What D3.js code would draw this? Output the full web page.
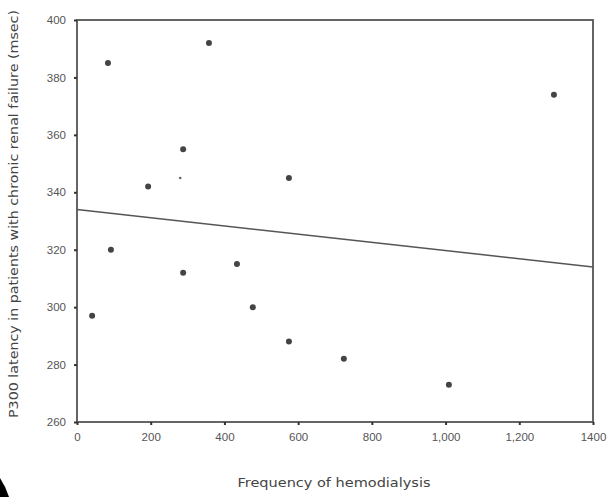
<!DOCTYPE html>
<html lang="en">
<head>
    <meta charset="UTF-8">
    <script type="text/javascript" src="https://d3js.org/d3.v7.min.js"></script>
    <title>P300 latency</title>
    <style>
        body { margin: 0; background: #fff; }
    </style>
</head>
<body>
    <svg id="svg"></svg>
    <script>
        const width = 610;
        const height = 497;
        const margin = {"top": 20, "bottom": 75, "left": 77, "right": 17};

        // values
        const frequency = [84, 358, 288, 193, 575, 92, 41, 288, 434, 477, 575, 724, 1009, 1294];
        const latency   = [385, 392, 355, 342, 345, 320, 297, 312, 315, 300, 288, 282, 273, 374];
        const faintPoint = [[280, 345]];
        const fitLine = [[0, 334], [1400, 314]];
        const xTicks = [0, 200, 400, 600, 800, 1000, 1200, 1400];
        const yTicks = [260, 280, 300, 320, 340, 360, 380, 400];

        const points = frequency.map((f, i) => [f, latency[i]]);

        const xscale = d3.scaleLinear()
                         .domain([0, 1400])
                         .range([margin.left, width - margin.right]);
        const yscale = d3.scaleLinear()
                         .domain([260, 400])
                         .range([height - margin.bottom, margin.top]);

        const svg = d3.select("#svg").attr("width", width).attr("height", height)
            .attr("font-family", "DejaVu Sans, sans-serif");

        // frame
        svg.append("rect")
            .attr("x", xscale(0)).attr("y", yscale(400))
            .attr("width", xscale(1400) - xscale(0))
            .attr("height", yscale(260) - yscale(400))
            .attr("fill", "none").attr("stroke", "#555").attr("stroke-width", 1.8);

        const xaxis = d3.axisBottom(xscale).tickValues(xTicks)
            .tickFormat(d => d >= 1000 && d < 1400 ? d3.format(",")(d) : d)
            .tickSize(3).tickPadding(8);
        svg.append("g").attr("transform", `translate(0,${yscale(260)})`)
            .call(xaxis)
            .call(g => g.select(".domain").remove())
            .call(g => g.selectAll("line").attr("stroke", "#333").attr("stroke-width", 2))
            .call(g => g.selectAll("text").attr("font-size", 11.5).attr("fill", "#555"));

        const yaxis = d3.axisLeft(yscale).tickValues(yTicks).tickSize(3).tickPadding(8);
        svg.append("g").attr("transform", `translate(${xscale(0)},0)`)
            .call(yaxis)
            .call(g => g.select(".domain").remove())
            .call(g => g.selectAll("line").attr("stroke", "#333").attr("stroke-width", 2))
            .call(g => g.selectAll("text").attr("font-size", 11.5).attr("fill", "#555"));

        // regression line
        const line = d3.line().x(d => xscale(d[0])).y(d => yscale(d[1]));
        svg.append("path").attr("d", line(fitLine))
            .attr("stroke", "#555").attr("stroke-width", 1.5).attr("fill", "none");

        svg.append("g").selectAll("circle").data(points).join("circle")
            .attr("cx", d => xscale(d[0])).attr("cy", d => yscale(d[1]))
            .attr("r", 3).attr("fill", "#444");

        svg.append("g").selectAll("circle").data(faintPoint).join("circle")
            .attr("cx", d => xscale(d[0])).attr("cy", d => yscale(d[1]))
            .attr("r", 1.3).attr("fill", "#666");

        // axis titles
        svg.append("text")
            .attr("x", 334).attr("y", 487)
            .attr("text-anchor", "middle").attr("font-size", 12).attr("fill", "#444")
            .attr("textLength", 193).attr("lengthAdjust", "spacingAndGlyphs")
            .text("Frequency of hemodialysis");

        svg.append("text")
            .attr("transform", "translate(18,214) rotate(-90)")
            .attr("text-anchor", "middle").attr("font-size", 12).attr("fill", "#444")
            .attr("textLength", 408).attr("lengthAdjust", "spacingAndGlyphs")
            .text("P300 latency in patients with chronic renal failure (msec)");

        // scan artifact in the corner
        svg.append("path")
            .attr("d", "M0,478 Q6,487 9,497 L0,497 Z")
            .attr("fill", "#000");
    </script>
</body>
</html>
